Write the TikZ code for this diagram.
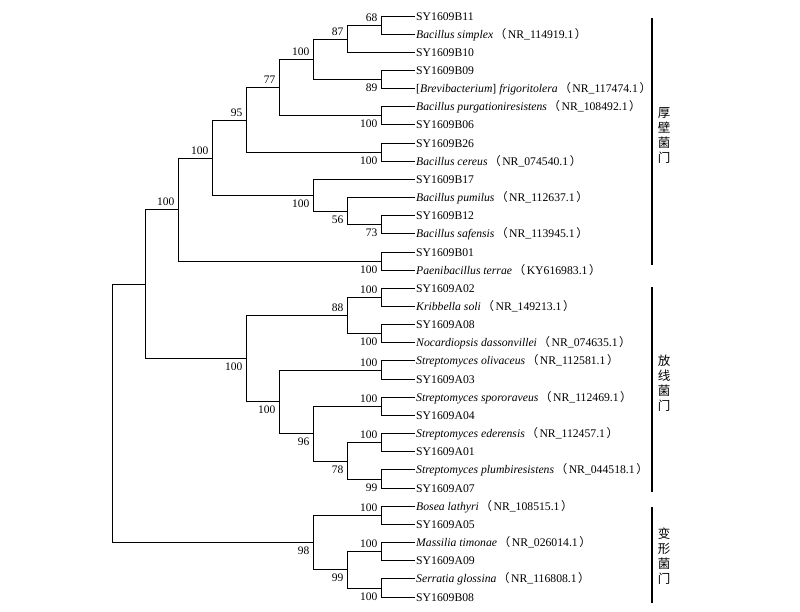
\documentclass[tikz,border=0pt]{standalone}
\usepackage{fontspec}
\setmainfont{Liberation Serif}
\newfontfamily\cjkfont{Noto Sans CJK SC}
\newcommand{\acc}[1]{\kern1.5pt{\cjkfont （}\kern1.5pt#1\kern1.5pt{\cjkfont ）}}
\begin{document}
\begin{tikzpicture}[x=1pt,y=-1pt,
  branch/.style={draw=black, line width=1.3pt},
  leaf/.style={anchor=west, inner xsep=1.5pt, inner ysep=0pt, text height=7.7pt, text depth=0pt, font=\fontsize{11.7}{13}\selectfont},
  bs/.style={anchor=east, inner sep=0pt, text height=7.7pt, text depth=0pt, font=\fontsize{11.5}{13}\selectfont},
  bsup/.style={bs, xshift=-4pt, yshift=8pt},
  bsdn/.style={bs, xshift=-4pt, yshift=-8pt},
  bar/.style={draw=black, line width=2pt},
  phylum/.style={align=center, font=\cjkfont\fontsize{12.5}{15}\selectfont, inner sep=0pt}]
\useasboundingbox (0,0) rectangle (800,611);

% leaves
\node[leaf] (l1)  at (414.5,16.5)  {SY1609B11};
\node[leaf] (l2)  at (414.5,34.5)  {\textit{Bacillus simplex}\acc{NR\_114919.1}};
\node[leaf] (l3)  at (414.5,52.5)  {SY1609B10};
\node[leaf] (l4)  at (414.5,70.5)  {SY1609B09};
\node[leaf] (l5)  at (414.5,88.5)  {[\textit{Brevibacterium}] \textit{frigoritolera}\acc{NR\_117474.1}};
\node[leaf] (l6)  at (414.5,106.5) {\textit{Bacillus purgationiresistens}\acc{NR\_108492.1}};
\node[leaf] (l7)  at (414.5,124.5) {SY1609B06};
\node[leaf] (l8)  at (414.5,143.5) {SY1609B26};
\node[leaf] (l9)  at (414.5,161.5) {\textit{Bacillus cereus}\acc{NR\_074540.1}};
\node[leaf] (l10) at (414.5,179.5) {SY1609B17};
\node[leaf] (l11) at (414.5,197.5) {\textit{Bacillus pumilus}\acc{NR\_112637.1}};
\node[leaf] (l12) at (414.5,215.5) {SY1609B12};
\node[leaf] (l13) at (414.5,233.5) {\textit{Bacillus safensis}\acc{NR\_113945.1}};
\node[leaf] (l14) at (414.5,252.5) {SY1609B01};
\node[leaf] (l15) at (414.5,270.5) {\textit{Paenibacillus terrae}\acc{KY616983.1}};
\node[leaf] (l16) at (414.5,288.5) {SY1609A02};
\node[leaf] (l17) at (414.5,306.5) {\textit{Kribbella soli}\acc{NR\_149213.1}};
\node[leaf] (l18) at (414.5,324.5) {SY1609A08};
\node[leaf] (l19) at (414.5,342.5) {\textit{Nocardiopsis dassonvillei}\acc{NR\_074635.1}};
\node[leaf] (l20) at (414.5,360.5) {\textit{Streptomyces olivaceus}\acc{NR\_112581.1}};
\node[leaf] (l21) at (414.5,379.5) {SY1609A03};
\node[leaf] (l22) at (414.5,397.5) {\textit{Streptomyces spororaveus}\acc{NR\_112469.1}};
\node[leaf] (l23) at (414.5,415.5) {SY1609A04};
\node[leaf] (l24) at (414.5,433.5) {\textit{Streptomyces ederensis}\acc{NR\_112457.1}};
\node[leaf] (l25) at (414.5,451.5) {SY1609A01};
\node[leaf] (l26) at (414.5,469.5) {\textit{Streptomyces plumbiresistens}\acc{NR\_044518.1}};
\node[leaf] (l27) at (414.5,488.5) {SY1609A07};
\node[leaf] (l28) at (414.5,506.5) {\textit{Bosea lathyri}\acc{NR\_108515.1}};
\node[leaf] (l29) at (414.5,524.5) {SY1609A05};
\node[leaf] (l30) at (414.5,542.5) {\textit{Massilia timonae}\acc{NR\_026014.1}};
\node[leaf] (l31) at (414.5,560.5) {SY1609A09};
\node[leaf] (l32) at (414.5,578.5) {\textit{Serratia glossina}\acc{NR\_116808.1}};
\node[leaf] (l33) at (414.5,597.5) {SY1609B08};

% internal nodes
\coordinate (n68)   at (381.5,25.5);
\coordinate (n87)   at (347.5,39.5);
\coordinate (n89)   at (381.5,79.5);
\coordinate (n100a) at (313.5,59.5);
\coordinate (n100b) at (381.5,115.5);
\coordinate (n77)   at (279.5,87.5);
\coordinate (n100c) at (381.5,152.5);
\coordinate (n95)   at (246.5,120.5);
\coordinate (n73)   at (381.5,224.5);
\coordinate (n56)   at (347.5,211.5);
\coordinate (n100d) at (313.5,195.5);
\coordinate (n100e) at (212.5,158.5);
\coordinate (n100f) at (381.5,261.5);
\coordinate (n100g) at (178.5,209.5);
\coordinate (n100h) at (381.5,297.5);
\coordinate (n100i) at (381.5,333.5);
\coordinate (n88)   at (347.5,315.5);
\coordinate (n100j) at (381.5,370.5);
\coordinate (n100k) at (381.5,406.5);
\coordinate (n100l) at (381.5,442.5);
\coordinate (n99a)  at (381.5,479.5);
\coordinate (n78)   at (347.5,461.5);
\coordinate (n96)   at (313.5,433.5);
\coordinate (n100m) at (279.5,401.5);
\coordinate (n100r) at (246.5,358.5);
\coordinate (n100q) at (145.5,284.5);
\coordinate (n100n) at (381.5,515.5);
\coordinate (n100o) at (381.5,551.5);
\coordinate (n100p) at (381.5,588.5);
\coordinate (n99b)  at (347.5,569.5);
\coordinate (n98)   at (313.5,542.5);
\coordinate (root)  at (112.5,413.5);

% branches
\draw[branch] (l1.west) -| (n68) |- (l2.west);
\draw[branch] (n68) -| (n87) |- (l3.west);
\draw[branch] (l4.west) -| (n89) |- (l5.west);
\draw[branch] (n87) -| (n100a) |- (n89);
\draw[branch] (l6.west) -| (n100b) |- (l7.west);
\draw[branch] (n100a) -| (n77) |- (n100b);
\draw[branch] (l8.west) -| (n100c) |- (l9.west);
\draw[branch] (n77) -| (n95) |- (n100c);
\draw[branch] (l12.west) -| (n73) |- (l13.west);
\draw[branch] (l11.west) -| (n56) |- (n73);
\draw[branch] (l10.west) -| (n100d) |- (n56);
\draw[branch] (n95) -| (n100e) |- (n100d);
\draw[branch] (l14.west) -| (n100f) |- (l15.west);
\draw[branch] (n100e) -| (n100g) |- (n100f);
\draw[branch] (l16.west) -| (n100h) |- (l17.west);
\draw[branch] (l18.west) -| (n100i) |- (l19.west);
\draw[branch] (n100h) -| (n88) |- (n100i);
\draw[branch] (l20.west) -| (n100j) |- (l21.west);
\draw[branch] (l22.west) -| (n100k) |- (l23.west);
\draw[branch] (l24.west) -| (n100l) |- (l25.west);
\draw[branch] (l26.west) -| (n99a) |- (l27.west);
\draw[branch] (n100l) -| (n78) |- (n99a);
\draw[branch] (n100k) -| (n96) |- (n78);
\draw[branch] (n100j) -| (n100m) |- (n96);
\draw[branch] (n88) -| (n100r) |- (n100m);
\draw[branch] (n100g) -| (n100q) |- (n100r);
\draw[branch] (l28.west) -| (n100n) |- (l29.west);
\draw[branch] (l30.west) -| (n100o) |- (l31.west);
\draw[branch] (l32.west) -| (n100p) |- (l33.west);
\draw[branch] (n100o) -| (n99b) |- (n100p);
\draw[branch] (n100n) -| (n98) |- (n99b);
\draw[branch] (n100q) -| (root) |- (n98);

% bootstrap values
\node[bsup] (b1)  at (n68)   {68};
\node[bsup] (b2)  at (n87)   {87};
\node[bsdn] (b3)  at (n89)   {89};
\node[bsup] (b4)  at (n100a) {100};
\node[bsdn] (b5)  at (n100b) {100};
\node[bsup] (b6)  at (n77)   {77};
\node[bsdn] (b7)  at (n100c) {100};
\node[bsup] (b8)  at (n95)   {95};
\node[bsdn] (b9)  at (n73)   {73};
\node[bsdn] (b10) at (n56)   {56};
\node[bsdn] (b11) at (n100d) {100};
\node[bsup] (b12) at (n100e) {100};
\node[bsdn] (b13) at (n100f) {100};
\node[bsup] (b14) at (n100g) {100};
\node[bsup] (b15) at (n100h) {100};
\node[bsdn] (b16) at (n100i) {100};
\node[bsup] (b17) at (n88)   {88};
\node[bsup] (b18) at (n100j) {100};
\node[bsup] (b19) at (n100k) {100};
\node[bsup] (b20) at (n100l) {100};
\node[bsdn] (b21) at (n99a)  {99};
\node[bsdn] (b22) at (n78)   {78};
\node[bsdn] (b23) at (n96)   {96};
\node[bsdn] (b24) at (n100m) {100};
\node[bsdn] (b25) at (n100r) {100};
\node[bsup] (b26) at (n100n) {100};
\node[bsup] (b27) at (n100o) {100};
\node[bsdn] (b28) at (n100p) {100};
\node[bsdn] (b29) at (n99b)  {99};
\node[bsdn] (b30) at (n98)   {98};

% phylum bars
\coordinate (f1) at (652,18);
\coordinate (f2) at (652,265);
\draw[bar] (f1) -- (f2);
\node[phylum] (fp) at (664,136) {厚\\壁\\菌\\门};
\coordinate (a1) at (652,287);
\coordinate (a2) at (652,492);
\draw[bar] (a1) -- (a2);
\node[phylum] (ap) at (664,383) {放\\线\\菌\\门};
\coordinate (p1) at (652,507);
\coordinate (p2) at (652,603);
\draw[bar] (p1) -- (p2);
\node[phylum] (pp) at (664,556) {变\\形\\菌\\门};
\end{tikzpicture}
\end{document}
